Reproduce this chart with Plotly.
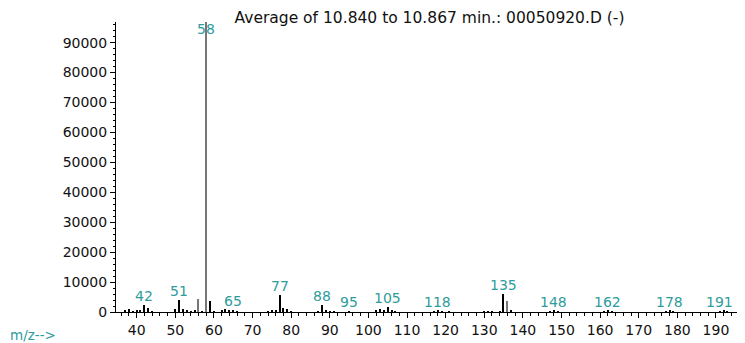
import plotly.graph_objects as go

# m/z values and abundances
mz = [37, 38, 39, 40, 41, 42, 43, 44,
      50, 51, 52, 53, 54, 55, 56, 57, 58, 59, 60,
      62, 63, 64, 65, 66,
      74, 75, 76, 77, 78, 79, 80,
      87, 88, 89, 90, 91,
      95, 102, 103, 104, 105, 106, 107,
      117, 118, 119, 121,
      130, 131, 132, 134, 135, 136, 137,
      147, 148, 149, 161, 162, 163, 177, 178, 179, 191, 192, 193]
abundance = [400, 1000, 300, 500, 700, 2400, 1200, 300,
             1000, 4000, 900, 600, 300, 400, 4300, 300, 96900, 3700, 300,
             500, 1100, 400, 700, 300,
             300, 400, 500, 5700, 1300, 1100, 300,
             200, 2500, 400, 200, 300,
             300, 600, 900, 600, 1700, 500, 300,
             200, 400, 200, 200,
             300, 300, 200, 300, 5900, 3800, 500,
             300, 400, 200, 300, 400, 200, 300, 500, 200, 300, 400, 200]
gray_peaks = [56, 58, 136]
labelled = [42, 51, 58, 65, 77, 88, 95, 105, 118, 135, 148, 162, 178, 191]

title = "Average of 10.840 to 10.867 min.: 00050920.D (-)"
teal = "#2e9c9c"
font = "DejaVu Sans"
y_max = 96900

# page body adds an 8px margin, so the figure is drawn 8px smaller
W, H = 737, 335
L, R, T, B = 108, 2, 14, 31
pw, ph = W - L - R, H - T - B

colors = ["#777777" if m in gray_peaks else "#000000" for m in mz]

fig = go.Figure(go.Bar(x=mz, y=abundance, width=0.3,
                       marker=dict(color=colors, line=dict(width=0))))

for m in labelled:
    a = abundance[mz.index(m)]
    fig.add_annotation(x=m, y=min(a, y_max * 0.945), text=str(m),
                       showarrow=False, yanchor="bottom", yshift=-1,
                       font=dict(family=font, size=14, color=teal))

fig.add_annotation(xref="paper", yref="paper", x=-L / pw, y=-23 / ph,
                   xanchor="left", yanchor="middle", text="m/z-->",
                   showarrow=False, font=dict(family=font, size=13.5, color=teal))

fig.update_layout(
    width=W, height=H,
    margin=dict(l=L, r=R, t=T, b=B),
    paper_bgcolor="white", plot_bgcolor="white",
    showlegend=False, bargap=0,
    title=dict(text=title, x=0.5, xanchor="center", xref="paper",
               yref="container", y=1 - 10 / H, yanchor="middle",
               font=dict(family=font, size=15.5, color="#111111")),
    font=dict(family=font, size=14, color="#111111"),
)
fig.update_xaxes(range=[34.64, 197.0], dtick=10, tick0=0,
                 showgrid=False, zeroline=False,
                 showline=True, linecolor="black", linewidth=1,
                 ticks="outside", ticklen=5, tickcolor="black",
                 minor=dict(dtick=2, ticks="outside", ticklen=3, tickcolor="black"),
                 tickfont=dict(family=font, size=14))
fig.update_yaxes(range=[0, y_max], dtick=10000, tick0=0,
                 showgrid=False, zeroline=False,
                 showline=True, linecolor="black", linewidth=1,
                 ticks="outside", ticklen=5, tickcolor="black",
                 minor=dict(dtick=2000, ticks="outside", ticklen=2, tickcolor="black"),
                 tickformat="d", tickfont=dict(family=font, size=14))

fig.write_html("out.html")
